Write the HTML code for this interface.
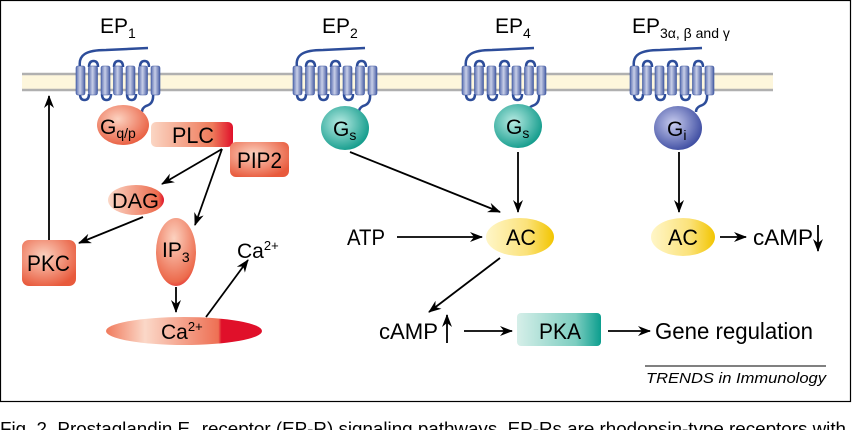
<!DOCTYPE html>
<html><head><meta charset="utf-8"><style>
body{margin:0;background:#fff;}
svg{display:block;font-family:"Liberation Sans",sans-serif;}
</style></head><body>
<svg width="852" height="430" viewBox="0 0 852 430" xmlns="http://www.w3.org/2000/svg">
<defs>
<linearGradient id="cyl" x1="0" x2="1"><stop offset="0" stop-color="#5a6fb0"/><stop offset="0.45" stop-color="#c8cfe8"/><stop offset="1" stop-color="#4a5fa5"/></linearGradient>
<linearGradient id="red" x1="0" x2="1"><stop offset="0" stop-color="#fbd6c4"/><stop offset="0.75" stop-color="#ee7a5a"/><stop offset="1" stop-color="#e0102a"/></linearGradient>
<linearGradient id="redh" x1="0" x2="1"><stop offset="0" stop-color="#fbd8c8"/><stop offset="0.9" stop-color="#ec6a4c"/><stop offset="1" stop-color="#e0102a"/></linearGradient>
<linearGradient id="ca" x1="0" x2="1"><stop offset="0" stop-color="#f07a5c"/><stop offset="0.25" stop-color="#fbd8c8"/><stop offset="0.72" stop-color="#ee7054"/><stop offset="0.74" stop-color="#e0102a"/><stop offset="1" stop-color="#e0102a"/></linearGradient>
<radialGradient id="redball" cx="0.4" cy="0.35" r="0.7"><stop offset="0" stop-color="#fcd2c0"/><stop offset="1" stop-color="#e85a3c"/></radialGradient>
<radialGradient id="ip3" cx="0.45" cy="0.3" r="0.8"><stop offset="0" stop-color="#fcd2c0"/><stop offset="0.8" stop-color="#ec6a4c"/><stop offset="1" stop-color="#e0102a"/></radialGradient>
<radialGradient id="teal" cx="0.4" cy="0.4" r="0.65"><stop offset="0" stop-color="#b8ebe3"/><stop offset="1" stop-color="#0f9a8a"/></radialGradient>
<radialGradient id="blue" cx="0.4" cy="0.4" r="0.65"><stop offset="0" stop-color="#c9cdef"/><stop offset="1" stop-color="#3b4aa0"/></radialGradient>
<linearGradient id="yel" x1="0" x2="1"><stop offset="0" stop-color="#fff6c8"/><stop offset="0.6" stop-color="#fbe27a"/><stop offset="1" stop-color="#f2c500"/></linearGradient>
<linearGradient id="pka" x1="0" x2="1"><stop offset="0" stop-color="#d6efe9"/><stop offset="0.7" stop-color="#7ccdc0"/><stop offset="1" stop-color="#0c9e8e"/></linearGradient>
<marker id="ah" markerWidth="13" markerHeight="10" refX="12" refY="5" orient="auto" markerUnits="userSpaceOnUse"><path d="M0,0 L13,5 L0,10 L4,5 z" fill="#000"/></marker>
<g id="rec">
 <path d="M4,67 C2,55 10,50 30,50 L72,48" fill="none" stroke="#2d4d9a" stroke-width="2.5"/>
 <path d="M4,94 Q4,100 8.5,100 Q13,100 13,94 M13,67 Q13,61 17.5,61 Q22,61 22,67 M26,94 Q26,100 30.5,100 Q35,100 35,94 M38,67 Q38,61 42.5,61 Q47,61 47,67 M51,94 Q51,100 55.5,100 Q60,100 60,94 M64,67 Q64,61 68.5,61 Q73,61 73,67 M77,94 Q78,104 70,106 Q66,108 66,112" fill="none" stroke="#2d4d9a" stroke-width="2.5"/>
 <g fill="url(#cyl)" stroke="#3a55a0" stroke-width="0.6">
  <rect x="0" y="66" width="9" height="29" rx="2"/><rect x="12.5" y="66" width="9" height="29" rx="2"/><rect x="25" y="66" width="9" height="29" rx="2"/><rect x="37.5" y="66" width="9" height="29" rx="2"/><rect x="50" y="66" width="9" height="29" rx="2"/><rect x="62.5" y="66" width="9" height="29" rx="2"/><rect x="75" y="66" width="9" height="29" rx="2"/>
 </g>
</g>
</defs>
<rect x="0.5" y="0.5" width="850" height="401" fill="none" stroke="#000" stroke-width="1.2"/>
<rect x="22" y="74" width="751" height="16" fill="#fdf6dc"/>
<line x1="22" y1="74" x2="773" y2="74" stroke="#b0b0b0" stroke-width="2.5"/>
<line x1="22" y1="90" x2="773" y2="90" stroke="#b0b0b0" stroke-width="2.5"/>
<use href="#rec" x="76" y="0"/>
<use href="#rec" x="293" y="0"/>
<use href="#rec" x="462" y="0"/>
<use href="#rec" x="630" y="0"/>
<g font-size="21">
<text x="100" y="33">EP<tspan font-size="14" dy="5">1</tspan></text>
<text x="322" y="33">EP<tspan font-size="14" dy="5">2</tspan></text>
<text x="495" y="33">EP<tspan font-size="14" dy="5">4</tspan></text>
<text x="632" y="33">EP<tspan font-size="14" dy="5">3α, β and γ</tspan></text>
</g>
<g lengthAdjust="spacingAndGlyphs">
<rect x="151" y="122" width="82" height="25" rx="5" fill="url(#red)"/>
<ellipse cx="123" cy="125" rx="26" ry="20" fill="url(#redball)"/>
<text x="100" y="134" font-size="21">G<tspan font-size="14" dy="4">q/p</tspan></text>
<text x="172" y="143" font-size="22" textLength="42" lengthAdjust="spacingAndGlyphs">PLC</text>
<rect x="230" y="142" width="59" height="35" rx="6" fill="url(#redball)"/>
<text x="237" y="168" font-size="22" textLength="45" lengthAdjust="spacingAndGlyphs">PIP2</text>
<ellipse cx="136" cy="200" rx="28" ry="15" fill="url(#redh)"/>
<text x="112" y="208" font-size="21" textLength="47" lengthAdjust="spacingAndGlyphs">DAG</text>
<rect x="22" y="240" width="54" height="46" rx="7" fill="url(#redball)"/>
<text x="27" y="271" font-size="22" textLength="43" lengthAdjust="spacingAndGlyphs">PKC</text>
<ellipse cx="176" cy="252" rx="20" ry="34" fill="url(#ip3)"/>
<text x="162" y="257" font-size="21">IP<tspan font-size="14" dy="5">3</tspan></text>
<ellipse cx="184" cy="331" rx="78" ry="14" fill="url(#ca)"/>
<text x="161" y="339" font-size="21">Ca<tspan font-size="13" dy="-8">2+</tspan></text>
<text x="237" y="258" font-size="21">Ca<tspan font-size="13" dy="-8">2+</tspan></text>
</g>
<g stroke="#000" stroke-width="1.8" fill="none" marker-end="url(#ah)">
<line x1="49" y1="240" x2="49" y2="96"/>
<line x1="222" y1="149" x2="162" y2="184"/>
<line x1="222" y1="149" x2="195" y2="225"/>
<line x1="143" y1="217" x2="79" y2="243"/>
<line x1="176" y1="287" x2="176" y2="312"/>
<line x1="206" y1="317" x2="248" y2="260"/>
<line x1="350" y1="152" x2="500" y2="212"/>
<line x1="518" y1="152" x2="518" y2="212"/>
<line x1="679" y1="152" x2="679" y2="212"/>
<line x1="397" y1="237" x2="482" y2="237"/>
<line x1="500" y1="258" x2="429" y2="312"/>
<line x1="464" y1="331" x2="512" y2="331"/>
<line x1="608" y1="331" x2="650" y2="331"/>
<line x1="720" y1="237" x2="746" y2="237"/>
<line x1="447" y1="343" x2="447" y2="315"/>
<line x1="818" y1="225" x2="818" y2="251"/>
</g>
<ellipse cx="345" cy="128" rx="24" ry="22" fill="url(#teal)"/>
<text x="333" y="136" font-size="21">G<tspan font-size="14" dy="4">s</tspan></text>
<ellipse cx="518" cy="126" rx="24" ry="22" fill="url(#teal)"/>
<text x="506" y="134" font-size="21">G<tspan font-size="14" dy="4">s</tspan></text>
<ellipse cx="678" cy="128" rx="24" ry="22" fill="url(#blue)"/>
<text x="667" y="136" font-size="21">G<tspan font-size="14" dy="4">i</tspan></text>
<text x="347" y="245" font-size="22" textLength="38" lengthAdjust="spacingAndGlyphs">ATP</text>
<ellipse cx="520" cy="237" rx="34" ry="19" fill="url(#yel)"/>
<text x="506" y="245" font-size="22" textLength="30" lengthAdjust="spacingAndGlyphs">AC</text>
<ellipse cx="683" cy="237" rx="32" ry="19" fill="url(#yel)"/>
<text x="668" y="245" font-size="22" textLength="30" lengthAdjust="spacingAndGlyphs">AC</text>
<text x="753" y="245" font-size="22" textLength="60" lengthAdjust="spacingAndGlyphs">cAMP</text>
<text x="379" y="339" font-size="22" textLength="59" lengthAdjust="spacingAndGlyphs">cAMP</text>
<rect x="517" y="313" width="84" height="33" rx="4" fill="url(#pka)"/>
<text x="539" y="339" font-size="22" textLength="42" lengthAdjust="spacingAndGlyphs">PKA</text>
<text x="655" y="339" font-size="23" textLength="158" lengthAdjust="spacingAndGlyphs">Gene regulation</text>
<line x1="645" y1="366" x2="826" y2="366" stroke="#000" stroke-width="1"/>
<text x="646" y="383" font-size="15" font-style="italic" textLength="180" lengthAdjust="spacingAndGlyphs">TRENDS in Immunology</text>
<text x="0" y="435" font-size="18" textLength="846" lengthAdjust="spacingAndGlyphs">Fig. 2. Prostaglandin E<tspan font-size="11" dy="3">2</tspan><tspan dy="-3"> receptor (EP-R) signaling pathways. EP-Rs are rhodopsin-type receptors with</tspan></text>
</svg>
</body></html>
